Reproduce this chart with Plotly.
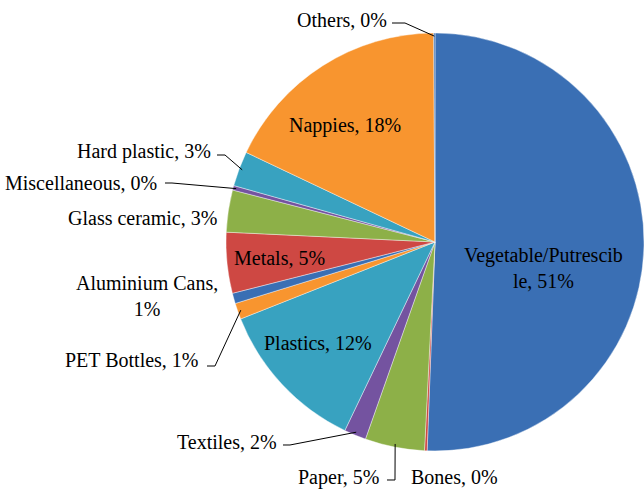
import math

import plotly.graph_objects as go

W, H = 644, 490

categories = [
    "Vegetable/Putrescible", "Bones", "Paper", "Textiles", "Plastics", "PET Bottles",
    "Aluminium Cans", "Metals", "Glass ceramic", "Miscellaneous", "Hard plastic",
    "Nappies", "Others",
]
shares = [50.6, 0.2, 4.6, 1.7, 11.9, 1.25, 0.8, 4.7, 3.25, 0.35, 2.7, 17.85, 0.1]

# Excel 2007 style palette, cycled over slices
palette = ["#3A6FB4", "#CE4843", "#8DB048", "#7453A0", "#38A2C0", "#F8952F"]
colors = [palette[i % len(palette)] for i in range(len(categories))]

FONT = dict(family="Liberation Serif, Times New Roman, serif", size=20, color="black")

# pie geometry in pixels
cx, cy, r = 435, 242, 209


def to_paper(px, py):
    return px / W, 1 - py / H


total = sum(shares)
pcts = [v / total * 100 for v in shares]


def label_text(i, split=None):
    name = categories[i]
    pct = f"{math.floor(pcts[i] + 0.5)}%"
    if split == "pct":
        return f"{name},<br>{pct}"
    if split is not None:
        return f"{name[:split]}<br>{name[split:]}, {pct}"
    return f"{name}, {pct}"


def mid_angle(i):
    start = sum(pcts[:i])
    return (start + pcts[i] / 2) / 100 * 360


def edge_point(i, frac=0.985):
    a = math.radians(mid_angle(i))
    return cx + r * frac * math.sin(a), cy - r * frac * math.cos(a)


x0, y0 = to_paper(cx - r, cy + r)
x1, y1 = to_paper(cx + r, cy - r)

fig = go.Figure(
    go.Pie(
        labels=categories,
        values=shares,
        sort=False,
        direction="clockwise",
        rotation=0,
        textinfo="none",
        hoverinfo="label+percent",
        marker=dict(colors=colors, line=dict(color="rgba(255,255,255,0.5)", width=0.8)),
        domain=dict(x=[x0, x1], y=[y0, y1]),
        showlegend=False,
    )
)

# label placement: (index, x px, y px, xanchor, line split)
placements = [
    (0, 543, 268, "center", 19),
    (11, 345, 126, "center", None),
    (4, 318, 343, "center", None),
    (7, 279, 258, "center", None),
    (12, 389, 20, "right", None),
    (10, 213, 152, "right", None),
    (9, 159, 183, "right", None),
    (8, 219, 218, "right", None),
    (6, 147, 296, "center", "pct"),
    (5, 201, 360, "right", None),
    (3, 279, 442, "right", None),
    (2, 381, 477, "right", None),
    (1, 409, 477, "left", None),
]

annotations = []
for i, px, py, anchor, split in placements:
    ax, ay = to_paper(px, py)
    annotations.append(
        dict(
            text=label_text(i, split),
            x=ax, y=ay, xref="paper", yref="paper",
            xanchor=anchor, yanchor="middle",
            showarrow=False, font=FONT, align="center",
        )
    )

# leader lines: (index, start px, elbow px)
leaders = [
    (12, (392, 23), (405, 23)),
    (10, (217, 155), (225, 155)),
    (9, (165, 183), (172, 183)),
    (5, (207, 366), (215, 366)),
    (3, (283, 445), (290, 445)),
    (2, (387, 480), (395, 480)),
]

shapes = []
for i, start, elbow in leaders:
    pts = [to_paper(*start), to_paper(*elbow), to_paper(*edge_point(i))]
    path = "M " + " L ".join(f"{x:.5f},{y:.5f}" for x, y in pts)
    shapes.append(
        dict(type="path", path=path, xref="paper", yref="paper",
             line=dict(color="black", width=1))
    )

fig.update_layout(
    width=W,
    height=H,
    margin=dict(l=0, r=0, t=0, b=0),
    paper_bgcolor="white",
    plot_bgcolor="white",
    annotations=annotations,
    shapes=shapes,
)

fig.write_html(
    "out.html",
    config={"displayModeBar": False},
    post_script="document.body.style.margin='0px';",
)
